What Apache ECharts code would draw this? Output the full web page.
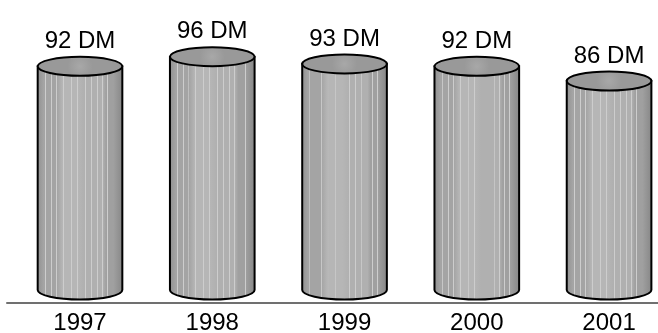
<!DOCTYPE html>
<html>
	<head>
		<meta charset="UTF-8">
		<title></title>
		<script src="https://cdn.jsdelivr.net/npm/echarts@6/dist/echarts.min.js"></script>
		<style>
			html, body { margin: 0; padding: 0; background: #fff; }
		</style>
	</head>
	<body>
		<div id="chart" style="width: 658px;height:333px;"></div>
	</body>
	<script type="text/javascript">
		var years = ['1997', '1998', '1999', '2000', '2001'];
		var prices = [92, 96, 93, 92, 86];
		var unit = ' DM';

		var yMin = -5.35, yMax = 119.3;

		// base shading of the cylinder body, plus thin light stripes
		function bodyFill() {
			var base = [[0, '#8f8f8f'], [0.08, '#a4a4a4'], [0.3, '#b6b6b6'], [0.55, '#b0b0b0'], [0.8, '#a0a0a0'], [1, '#858585']];
			var stripes = [0.1, 0.17, 0.23, 0.31, 0.4, 0.47, 0.56, 0.63, 0.7, 0.76, 0.82, 0.88];
			function baseAt(t) {
				for (var i = 1; i < base.length; i++) {
					if (t <= base[i][0]) return base[i - 1][1];
				}
				return base[base.length - 1][1];
			}
			var all = base.map(function (b) { return { offset: b[0], color: b[1] }; });
			stripes.forEach(function (s) {
				all.push({ offset: s - 0.005, color: baseAt(s) });
				all.push({ offset: s - 0.004, color: '#cdcdcd' });
				all.push({ offset: s + 0.004, color: '#cdcdcd' });
				all.push({ offset: s + 0.005, color: baseAt(s) });
			});
			all.sort(function (a, b) { return a.offset - b.offset; });
			return all;
		}
		var stops = bodyFill();
		var font = '24px "Liberation Sans", Arial, sans-serif';

		var myChart = echarts.init(document.getElementById('chart'));
		myChart.setOption({
			animation: false,
			grid: { left: 7, right: 0, top: 0, bottom: 30 },
			xAxis: {
				type: 'value',
				min: -0.552,
				max: 4.37,
				axisLine: { show: true, onZero: false, lineStyle: { color: '#707070', width: 2 } },
				axisTick: { show: false },
				axisLabel: { show: false },
				splitLine: { show: false }
			},
			yAxis: {
				type: 'value',
				min: yMin,
				max: yMax,
				show: false
			},
			series: [{
				type: 'custom',
				clip: false,
				data: prices.map(function (v, i) { return [i, v]; }),
				renderItem: function (params, api) {
					var i = api.value(0);
					var top = api.coord([i, api.value(1)]);
					var bot = api.coord([i, 0]);
					var axisPt = api.coord([i, yMin]);
					var rx = api.size([0.64, 0])[0] / 2;
					var ry = 9.5;
					var x0 = top[0] - rx, x1 = top[0] + rx;
					var d = 'M' + x0 + ' ' + top[1] + ' L' + x0 + ' ' + bot[1] +
						' A' + rx + ' ' + ry + ' 0 0 0 ' + x1 + ' ' + bot[1] +
						' L' + x1 + ' ' + top[1] + ' Z';
					return {
						type: 'group',
						children: [{
							type: 'path',
							shape: { pathData: d },
							style: {
								fill: new echarts.graphic.LinearGradient(0, 0, 1, 0, stops),
								stroke: '#000',
								lineWidth: 2
							}
						}, {
							type: 'ellipse',
							shape: { cx: top[0], cy: top[1], rx: rx, ry: ry },
							style: {
								fill: new echarts.graphic.RadialGradient(0.5, 0.5, 0.6, [
									{ offset: 0, color: '#a8a8a8' },
									{ offset: 1, color: '#999999' }
								]),
								stroke: '#000',
								lineWidth: 2
							}
						}, {
							type: 'text',
							style: {
								x: top[0], y: top[1] - 25,
								text: api.value(1) + unit,
								fill: '#000',
								font: font,
								align: 'center',
								verticalAlign: 'middle'
							}
						}, {
							type: 'text',
							style: {
								x: axisPt[0], y: axisPt[1] + 20,
								text: years[i],
								fill: '#000',
								font: font,
								align: 'center',
								verticalAlign: 'middle'
							}
						}]
					};
				}
			}]
		});
	</script>
</html>
